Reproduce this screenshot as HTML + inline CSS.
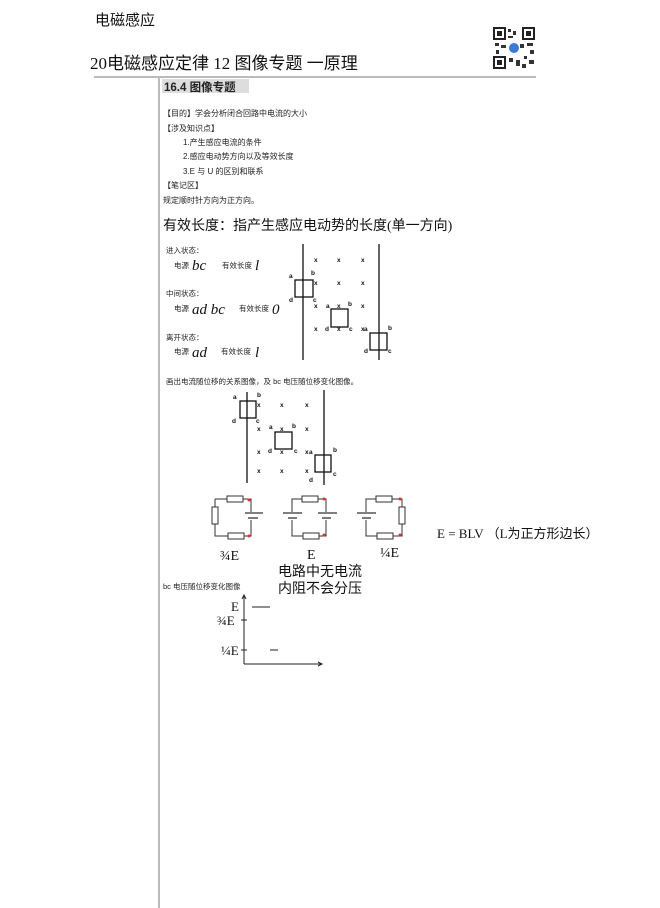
<!DOCTYPE html>
<html><head><meta charset="utf-8"><style>
body{margin:0;background:#fff;}
svg{display:block;font-family:"Liberation Sans","Noto Sans CJK SC",sans-serif;}
.hw{font-family:"Liberation Serif","Noto Sans CJK SC",serif;}
</style></head><body>
<svg width="660" height="908" viewBox="0 0 660 908" xmlns="http://www.w3.org/2000/svg">
<rect width="660" height="908" fill="#fff"/>
<text x="95" y="25" font-size="15" class="hw" fill="#111">电磁感应</text>
<text x="90" y="69" font-size="17" class="hw" fill="#111">20电磁感应定律 12  图像专题 一原理</text>
<g>
<rect x="493" y="27" width="42" height="42" fill="#fff"/>
<rect x="494" y="28" width="11" height="11" fill="none" stroke="#222" stroke-width="2"/>
<rect x="523" y="28" width="11" height="11" fill="none" stroke="#222" stroke-width="2"/>
<rect x="494" y="57" width="11" height="11" fill="none" stroke="#222" stroke-width="2"/>
<rect x="497" y="31" width="5" height="5" fill="#222"/><rect x="526" y="31" width="5" height="5" fill="#222"/><rect x="497" y="60" width="5" height="5" fill="#222"/>
<path d="M508 29h3v3h-3zM513 31h3v4h-3zM508 36h5v2h-5zM495 43h4v3h-4zM501 45h5v3h-5zM520 44h4v4h-4zM527 43h6v3h-6zM509 58h4v4h-4zM516 60h4v6h-4zM524 56h3v3h-3zM529 60h5v4h-5zM522 64h4v4h-4zM496 50h3v4h-3zM530 50h4v4h-4z" fill="#333"/>
<circle cx="514" cy="48" r="5" fill="#3a7bd5"/>
</g>
<line x1="94" y1="77" x2="536" y2="77" stroke="#777" stroke-width="1"/>
<line x1="159" y1="78" x2="159" y2="908" stroke="#777" stroke-width="1"/>
<rect x="162" y="79" width="87" height="14" fill="#ddd"/>
<text x="164" y="91" font-size="11.5" font-weight="bold" fill="#222">16.4 图像专题</text>
<g font-size="8" fill="#222">
<text x="163" y="116">【目的】学会分析闭合回路中电流的大小</text>
<text x="163" y="131">【涉及知识点】</text>
<text x="183" y="145">1.产生感应电流的条件</text>
<text x="183" y="159">2.感应电动势方向以及等效长度</text>
<text x="183" y="174">3.E 与 U 的区别和联系</text>
<text x="163" y="188">【笔记区】</text>
<text x="163" y="203">规定顺时针方向为正方向。</text>
</g>
<text x="163" y="230" font-size="14" class="hw" fill="#111">有效长度：指产生感应电动势的长度(单一方向)</text>
<g font-size="7.5" fill="#222">
<text x="166" y="253">进入状态：</text>
<text x="174" y="268">电源</text><text x="222" y="268">有效长度</text>
<text x="166" y="296">中间状态：</text>
<text x="174" y="311">电源</text><text x="239" y="311">有效长度</text>
<text x="166" y="340">离开状态：</text>
<text x="174" y="354">电源</text><text x="221" y="354">有效长度</text>
</g>
<g class="hw" font-size="15" fill="#111" font-style="italic">
<text x="192" y="270">bc</text><text x="255" y="270">l</text>
<text x="192" y="314">ad bc</text><text x="272" y="314">0</text>
<text x="192" y="357">ad</text><text x="255" y="357">l</text>
</g>
<g stroke="#111" stroke-width="1.3" fill="none">
<line x1="303" y1="244" x2="303" y2="360"/><line x1="379" y1="244" x2="379" y2="360"/>
<rect x="295" y="280" width="18" height="17"/><rect x="331" y="309" width="17" height="18"/><rect x="370" y="333" width="17" height="17"/>
<line x1="247" y1="392" x2="247" y2="483"/><line x1="324" y1="390" x2="324" y2="485"/>
<rect x="240" y="401" width="16" height="17"/><rect x="275" y="432" width="17" height="17"/><rect x="315" y="455" width="16" height="17"/>
</g>
<g font-size="6.5" fill="#111" font-weight="bold">
<text x="314" y="262">x</text><text x="337" y="262">x</text><text x="361" y="262">x</text>
<text x="314" y="285">x</text><text x="337" y="285">x</text><text x="361" y="285">x</text>
<text x="314" y="308">x</text><text x="337" y="308">x</text><text x="361" y="308">x</text>
<text x="314" y="331">x</text><text x="337" y="331">x</text><text x="361" y="331">x</text>
<text x="289" y="278">a</text><text x="311" y="275">b</text><text x="289" y="302">d</text><text x="313" y="302">c</text>
<text x="326" y="308">a</text><text x="348" y="306">b</text><text x="325" y="331">d</text><text x="349" y="331">c</text>
<text x="364" y="331">a</text><text x="388" y="330">b</text><text x="364" y="353">d</text><text x="388" y="353">c</text>
<text x="257" y="407">x</text><text x="280" y="407">x</text><text x="305" y="407">x</text>
<text x="257" y="431">x</text><text x="280" y="431">x</text><text x="305" y="431">x</text>
<text x="257" y="454">x</text><text x="280" y="454">x</text><text x="305" y="454">x</text>
<text x="257" y="473">x</text><text x="280" y="473">x</text><text x="305" y="473">x</text>
<text x="233" y="399">a</text><text x="257" y="397">b</text><text x="232" y="423">d</text><text x="256" y="423">c</text>
<text x="269" y="429">a</text><text x="292" y="428">b</text><text x="268" y="453">d</text><text x="294" y="453">c</text>
<text x="309" y="454">a</text><text x="333" y="452">b</text><text x="309" y="482">d</text><text x="333" y="476">c</text>
</g>
<text x="166" y="384" font-size="7.5" fill="#222">画出电流随位移的关系图像，及 bc 电压随位移变化图像。</text>
<g stroke="#333" stroke-width="1" fill="#fff">
<path d="M215 499H251V512M251 520V536H215V499" fill="none"/>
<rect x="227" y="496" width="16" height="6"/><rect x="212" y="507" width="6" height="17"/><rect x="228" y="533" width="16" height="6"/>
<line x1="245" y1="513" x2="263" y2="513" stroke-width="1.3"/><line x1="248" y1="518" x2="258" y2="518" stroke-width="1.3"/>
<path d="M292 512V499H326V512M326 520V536H292V520" fill="none"/>
<rect x="302" y="496" width="16" height="6"/><rect x="303" y="533" width="16" height="6"/>
<line x1="283" y1="513" x2="302" y2="513" stroke-width="1.3"/><line x1="288" y1="518" x2="297" y2="518" stroke-width="1.3"/>
<line x1="318" y1="513" x2="337" y2="513" stroke-width="1.3"/><line x1="322" y1="518" x2="331" y2="518" stroke-width="1.3"/>
<path d="M366 512V499H402V536H366V520" fill="none"/>
<rect x="376" y="496" width="16" height="6"/><rect x="399" y="507" width="6" height="17"/><rect x="377" y="533" width="16" height="6"/>
<line x1="357" y1="513" x2="376" y2="513" stroke-width="1.3"/><line x1="362" y1="518" x2="371" y2="518" stroke-width="1.3"/>
</g>
<g fill="#d33"><circle cx="249" cy="500" r="1.5"/><circle cx="249" cy="536" r="1.5"/><circle cx="324" cy="499" r="1.5"/><circle cx="324" cy="535" r="1.5"/><circle cx="400" cy="499" r="1.5"/><circle cx="400" cy="535" r="1.5"/></g>
<g class="hw" font-size="14" fill="#111">
<text x="220" y="560">¾E</text><text x="307" y="559">E</text><text x="380" y="557">¼E</text>
<text x="278" y="576">电路中无电流</text><text x="278" y="593">内阻不会分压</text>
<text x="437" y="538" font-size="13">E =  BLV  （L为正方形边长）</text>
</g>
<text x="163" y="589" font-size="7.5" fill="#222">bc 电压随位移变化图像</text>
<g stroke="#222" stroke-width="1" fill="none">
<line x1="244" y1="596" x2="244" y2="664"/><line x1="244" y1="664" x2="322" y2="664"/>
<path d="M242 599L244 595L246 599"/><path d="M318 662L322 664L318 666"/>
<line x1="252" y1="607" x2="270" y2="607"/><line x1="241" y1="620" x2="247" y2="620"/><line x1="270" y1="650" x2="278" y2="650"/><line x1="241" y1="650" x2="247" y2="650"/>
</g>
<g class="hw" font-size="13" fill="#111"><text x="231" y="611">E</text><text x="217" y="625">¾E</text><text x="221" y="655">¼E</text></g>
</svg>
</body></html>
